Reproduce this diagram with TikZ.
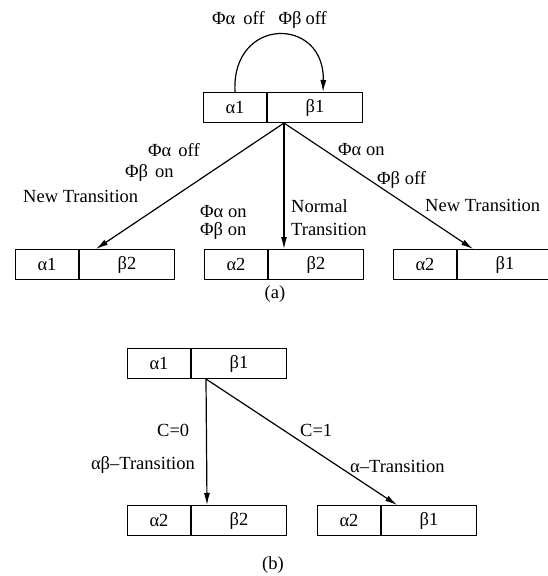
\documentclass[tikz,border=0pt]{standalone}
\usepackage{fontspec}
\setmainfont{Liberation Serif}
\usetikzlibrary{arrows.meta,calc}
\begin{document}
\begin{tikzpicture}[x=1pt,y=-1pt,
  cell/.style={draw,line width=1pt,minimum height=30pt,inner sep=0pt,
    anchor=north west,font=\fontsize{18.5}{20}\selectfont},
  acell/.style={cell,minimum width=63pt},
  bcell/.style={cell,minimum width=95pt},
  lbl/.style={font=\fontsize{18.5}{20}\selectfont,inner sep=0pt,anchor=west},
  arr/.style={line width=1.2pt,-{Latex[length=12pt,width=6pt]}}]
\useasboundingbox (0,0) rectangle (547,576);

% ---------- (a) ----------
\node[acell] (s0a) at (203,92) {α1};
\node[bcell] (s0b) at (s0a.north east) {β1};

\node[acell] (s1a) at (15,249) {α1};
\node[bcell] (s1b) at (s1a.north east) {β2};
\node[acell] (s2a) at (204,249) {α2};
\node[bcell] (s2b) at (s2a.north east) {β2};
\node[acell] (s3a) at (393,249) {α2};
\node[bcell] (s3b) at (s3a.north east) {β1};

\coordinate (o0) at ($(s0b.south west)+(17,0)$);
\coordinate (t1) at ($(s1b.north west)+(17,0)$);
\coordinate (t2) at ($(s2b.north west)+(16,0)$);
\coordinate (t3) at ($(s3b.north west)+(16,0)$);
\coordinate (l0) at ($(s0a.north west)+(32,0)$);
\coordinate (l1) at ($(s0b.north west)+(56,0)$);

% self loop
\draw[arr] (l0) .. controls ($(l0)+(-4,-76)$) and ($(l1)+(2,-76)$) .. (l1);
\node[lbl] (top) at (212,20) {Φα\hspace{8pt}off\hspace{14pt}Φβ\hspace{4pt}off};

% transitions
\draw[arr] (o0) -- (t1);
\draw[arr] (o0) -- (t2);
\draw[arr] (o0) -- (t3);

\node[lbl] (la1) at (148,150) {Φα\hspace{7pt}off};
\node[lbl] (la2) at (125,173) {Φβ\hspace{7pt}on};
\node[lbl] (la3) at (23,196) {New Transition};
\node[lbl] (lb1) at (200,212) {Φα on};
\node[lbl] (lb2) at (200,231) {Φβ on};
\node[lbl] (lb3) at (291,206) {Normal};
\node[lbl] (lb4) at (291,229) {Transition};
\node[lbl] (lc1) at (338,150) {Φα on};
\node[lbl] (lc2) at (377,180) {Φβ off};
\node[lbl] (lc3) at (425,205) {New Transition};

\node[lbl,anchor=center] (capa) at (275,294) {(a)};

% ---------- (b) ----------
\node[acell] (u0a) at (127,348) {α1};
\node[bcell] (u0b) at (u0a.north east) {β1};
\node[acell] (u1a) at (127,505) {α2};
\node[bcell] (u1b) at (u1a.north east) {β2};
\node[acell] (u2a) at (317,505) {α2};
\node[bcell] (u2b) at (u2a.north east) {β1};

\coordinate (p0) at ($(u0b.south west)+(15,0)$);
\coordinate (q1) at ($(u1b.north west)+(16,0)$);
\coordinate (q2) at ($(u2b.north west)+(16,0)$);

\draw[arr] (p0) -- (q1);
\draw[arr] (p0) -- (q2);

\node[lbl] (c0) at (157,430) {C=0};
\node[lbl,anchor=east] (d0) at (195,465) {αβ–Transition};
\node[lbl] (c1) at (300,430) {C=1};
\node[lbl] (d1) at (350,466) {α–Transition};

\node[lbl,anchor=center] (capb) at (273,565) {(b)};
\end{tikzpicture}
\end{document}
